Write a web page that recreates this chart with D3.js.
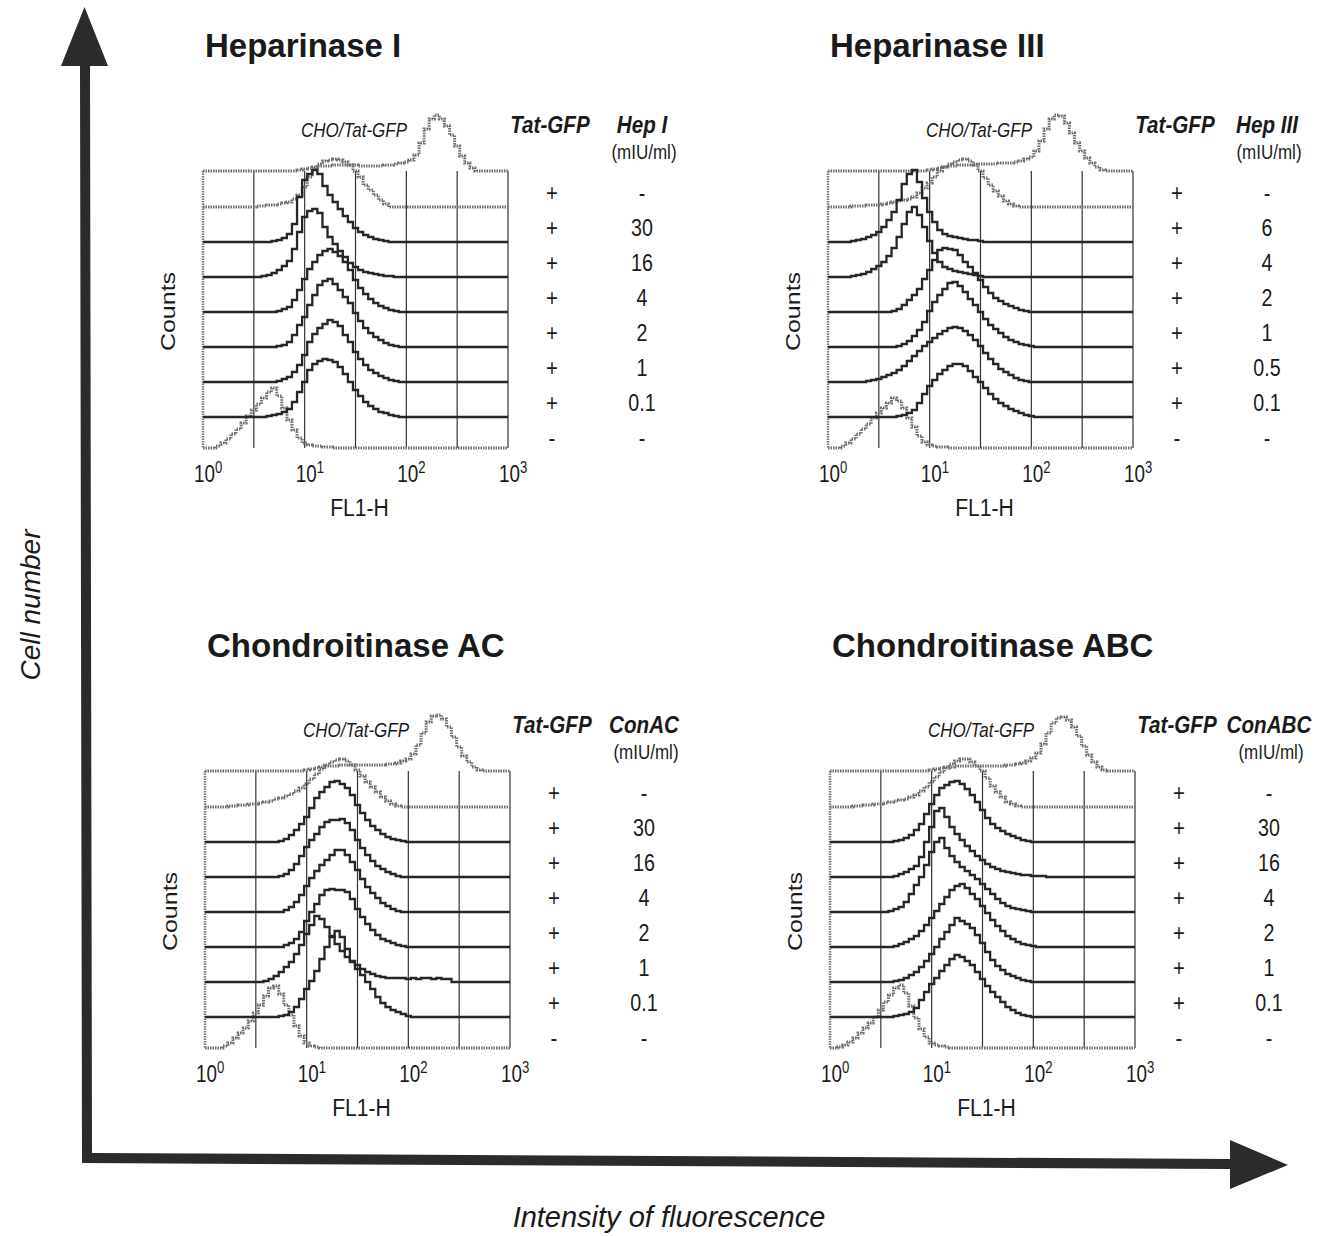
<!DOCTYPE html>
<html>
<head>
<meta charset="utf-8">
<script src="https://cdn.jsdelivr.net/npm/d3@7"></script>
<style>
  html, body { margin: 0; padding: 0; background: #fff; }
  svg { display: block; }
</style>
</head>
<body>
<svg id="fig" width="1327" height="1236"></svg>
<script>
// ---- Histogram data: counts per 0.05-decade bin of FL1-H, starting at the given log10 value ----
const binWidth = 0.05;
const gridDecades = [0, 0.5, 1, 1.5, 2, 2.5, 3];
const tickExponents = [0, 1, 2, 3];

const panelTitles = ["Heparinase I", "Heparinase III", "Chondroitinase AC", "Chondroitinase ABC"];
const enzymeNames = ["Hep I", "Hep III", "ConAC", "ConABC"];
const referenceLabel = "CHO/Tat-GFP";
const tatGfpRows = ["+", "+", "+", "+", "+", "+", "+", "-"];

// Heparinase I (mIU/ml)
const hepIDoses = ["-", "30", "16", "4", "2", "1", "0.1", "-"];
const hepIStarts = [0.95, 0.5, 0.65, 0.6, 0.7, 0.75, 0.7, 0.6, 0.1];
const hepICounts = [
  [1,2,3,4,5,5,5,6,6,6,6,6,5,5,5,5,5,6,6,7,8,9,11,16,28,42,52,56,52,45,36,25,15,8,3,0],
  [0,1,1,2,2,3,4,5,8,12,20,30,38,43,46,47,48,47,45,42,36,30,22,17,12,7,3,0],
  [0,1,2,4,8,18,45,62,68,72,68,56,47,40,33,26,20,14,10,7,5,3,2,1,0],
  [1,2,4,7,11,16,28,45,60,66,68,64,50,40,33,26,20,14,10,7,5,4,3,2,1,1,0],
  [0,1,3,5,12,22,33,43,50,57,61,63,60,56,50,42,32,24,18,13,9,6,4,2,1,0],
  [1,2,5,12,22,30,42,52,62,66,68,63,57,50,44,34,26,19,14,10,7,4,2,1,0],
  [0,1,3,5,10,17,27,40,48,54,58,62,60,56,47,40,30,23,17,12,9,6,4,2,1,0],
  [0,1,2,3,5,8,15,25,35,47,53,56,58,57,55,50,43,35,27,21,15,11,8,5,4,2,1,0],
  [0,2,5,9,14,19,25,32,38,44,50,56,60,52,40,28,18,10,5,3,2,2,1,1,0]
];

// Heparinase III (mIU/ml)
const hepIIIDoses = ["-", "6", "4", "2", "1", "0.5", "0.1", "-"];
const hepIIIStarts = [1.0, 0.2, 0.25, 0.2, 0.6, 0.65, 0.4, 0.65, 0.1];
const hepIIICounts = [
  [1,2,3,4,5,5,6,6,6,7,7,7,7,7,8,8,8,9,10,12,14,20,30,42,52,56,55,48,38,28,20,13,8,4,1,0],
  [0,1,1,1,2,2,2,3,4,5,6,7,8,10,14,19,24,30,36,40,43,45,47,48,46,42,36,29,22,16,11,6,3,1,0],
  [1,2,3,5,7,10,15,22,30,42,58,68,72,60,44,30,20,12,8,6,5,4,3,2,2,1,0],
  [0,1,2,3,5,8,11,15,21,29,40,53,65,70,62,50,36,24,15,10,8,6,5,4,3,2,1,0],
  [0,1,3,7,12,17,23,33,42,52,62,64,63,62,57,50,45,39,32,25,19,14,11,8,6,4,2,1,0],
  [0,1,3,6,11,17,25,36,45,52,58,64,65,61,55,48,42,35,28,22,18,14,10,7,5,3,2,1,0],
  [1,2,3,5,7,9,12,16,21,26,31,36,40,44,48,51,54,55,54,51,47,42,36,29,23,18,13,10,7,4,2,1,0],
  [0,1,2,4,7,14,23,31,37,43,47,51,53,53,51,46,40,35,29,23,18,14,11,8,6,4,2,1,0],
  [0,2,5,9,14,19,24,30,35,40,45,50,47,40,30,21,12,6,3,2,1,1,0]
];

// Chondroitinase AC (mIU/ml)
const conACDoses = ["-", "30", "16", "4", "2", "1", "0.1", "-"];
const conACStarts = [1.0, 0.2, 0.7, 0.7, 0.75, 0.75, 0.55, 0.7, 0.15];
const conACCounts = [
  [1,2,3,4,5,5,5,6,6,6,6,6,6,6,6,6,7,7,8,10,12,17,26,38,49,55,56,52,44,34,24,15,9,4,1,0],
  [0,1,1,2,2,3,3,4,5,6,8,9,11,13,16,19,23,28,33,38,42,45,47,48,46,42,37,31,25,20,15,10,6,3,1,0],
  [0,1,3,7,12,18,25,34,44,50,55,60,61,58,54,47,37,29,22,16,12,8,5,3,2,1,0],
  [0,1,3,7,13,21,30,37,43,50,55,57,57,58,54,47,37,29,22,16,11,8,5,3,1,0],
  [0,2,5,10,17,26,34,41,47,52,57,62,62,57,50,42,33,25,19,14,9,6,3,1,0],
  [0,2,4,8,15,26,35,43,52,57,58,57,57,55,48,38,30,23,17,12,8,6,4,2,1,0],
  [0,1,3,6,10,15,20,28,37,48,57,66,63,55,46,38,31,25,20,17,13,10,8,6,5,4,4,4,4,3,4,3,4,4,3,4,3,3,0],
  [0,1,2,5,10,18,28,36,46,58,70,80,86,80,68,56,48,42,35,28,20,14,10,7,5,3,1,0],
  [0,2,5,10,15,20,27,35,43,52,60,62,54,43,33,22,12,5,2,1,0]
];

// Chondroitinase ABC (mIU/ml)
const conABCDoses = ["-", "30", "16", "4", "2", "1", "0.1", "-"];
const conABCStarts = [1.0, 0.2, 0.6, 0.6, 0.55, 0.6, 0.6, 0.6, 0.05];
const conABCCounts = [
  [1,2,3,4,4,5,5,5,5,5,5,5,5,5,5,6,6,7,8,10,13,18,27,38,48,53,54,51,44,35,25,16,9,4,1,0],
  [0,1,1,2,2,3,3,4,5,6,7,8,10,12,16,20,25,30,35,39,43,46,48,48,45,41,36,29,21,15,10,5,3,1,0],
  [0,1,2,4,7,12,18,28,38,47,54,57,60,61,58,53,47,40,32,24,18,14,11,8,6,4,2,1,0],
  [0,1,3,5,8,11,20,35,50,66,69,60,50,43,37,31,26,21,17,13,10,8,6,5,4,3,2,2,1,1,1,0],
  [0,1,3,5,10,18,27,35,47,60,70,74,64,56,50,45,41,37,33,28,23,18,13,9,6,4,3,2,1,0],
  [0,1,3,5,8,11,16,22,29,36,43,50,57,61,63,59,53,48,41,34,27,21,16,11,8,5,3,2,1,0],
  [0,1,2,4,7,10,15,21,28,35,43,50,57,64,61,58,54,47,39,30,22,16,12,8,6,4,2,1,0],
  [0,1,2,3,5,9,17,25,33,39,46,52,58,62,60,56,52,45,38,31,25,20,15,10,7,4,2,1,0],
  [0,1,3,6,10,15,20,25,31,38,46,53,60,63,55,42,30,19,11,5,3,2,1,0]
];

// ---- Layout ----
const svg = d3.select("#fig");
const FONT = "'Liberation Sans', Arial, Helvetica, sans-serif";

const panels = [
  { title: panelTitles[0], enzyme: enzymeNames[0], doses: hepIDoses,   starts: hepIStarts,   counts: hepICounts,   left: 203, right: 508,  top: 171 },
  { title: panelTitles[1], enzyme: enzymeNames[1], doses: hepIIIDoses, starts: hepIIIStarts, counts: hepIIICounts, left: 828, right: 1133, top: 171 },
  { title: panelTitles[2], enzyme: enzymeNames[2], doses: conACDoses,  starts: conACStarts,  counts: conACCounts,  left: 205, right: 510,  top: 771 },
  { title: panelTitles[3], enzyme: enzymeNames[3], doses: conABCDoses, starts: conABCStarts, counts: conABCCounts, left: 830, right: 1135, top: 771 }
];
const boxHeight = 277, firstRow = 36, rowStep = 35;

const bins = d3.range(0, Math.round(3 / binWidth) + 1).map(i => +(i * binWidth).toFixed(2));
function expand(start, counts) {
  const i0 = Math.round(start / binWidth);
  return bins.map((u, i) => ({ u, c: (i >= i0 && i - i0 < counts.length) ? counts[i - i0] : 0 }));
}

// narrow-set text (condensed horizontally)
function ntext(g, x, y, str, o = {}) {
  const t = g.append("text")
    .attr("transform", `translate(${x},${y}) scale(${o.sx ?? 0.82},1)` + (o.rot ? ` rotate(${o.rot})` : ""))
    .attr("text-anchor", o.anchor || "middle")
    .attr("font-family", FONT)
    .attr("font-size", o.size || 22)
    .attr("font-weight", o.weight || "normal")
    .attr("font-style", o.style || "normal")
    .attr("fill", o.fill || "#1a1a1a")
    .text(str);
  if (o.ls) t.attr("letter-spacing", o.ls);
  return t;
}

const countScale = d3.scaleLinear().domain([0, 100]).range([0, 100]);

panels.forEach(p => {
  const g = svg.append("g");
  const bottom = p.top + boxHeight;
  const x = d3.scaleLog().domain([1, 1000]).range([p.left, p.right]);
  const baselines = [p.top];
  for (let i = 0; i < 7; i++) baselines.push(p.top + firstRow + rowStep * i);
  baselines.push(bottom);

  // title
  g.append("text").attr("x", p.left + 2).attr("y", p.top - 114)
    .attr("font-family", FONT).attr("font-size", 33).attr("font-weight", "bold")
    .attr("fill", "#1a1a1a").text(p.title);

  // half-decade grid
  g.selectAll("line.grid").data(gridDecades).join("line")
    .attr("x1", d => x(10 ** d)).attr("x2", d => x(10 ** d))
    .attr("y1", p.top).attr("y2", bottom)
    .attr("stroke", d => d === 0 ? "#7a7a7a" : "#333")
    .attr("stroke-width", d => d === 0 ? 2.5 : 1.2)
    .attr("stroke-dasharray", d => d === 0 ? "1.5 1" : null);

  const line = d3.line()
    .x(d => x(10 ** d.u))
    .curve(d3.curveStep);

  // traces: 0 = reference cells, 1 = Tat-GFP alone, 2..7 = enzyme doses, 8 = untreated
  const order = [0, 1, 8, 2, 3, 4, 5, 6, 7];
  order.forEach(k => {
    const dotted = (k === 0 || k === 1 || k === 8);
    const base = baselines[k];
    g.append("path")
      .datum(expand(p.starts[k], p.counts[k]))
      .attr("d", line.y(d => base - countScale(d.c)))
      .attr("fill", "none")
      .attr("stroke", dotted ? "#6e6e6e" : "#262626")
      .attr("stroke-width", dotted ? 3 : 2.3)
      .attr("stroke-dasharray", dotted ? "1.5 1" : null)
      .attr("stroke-linejoin", "miter");
  });

  // tick labels 10^k
  tickExponents.forEach(e => {
    const t = g.append("text")
      .attr("transform", `translate(${x(10 ** e) - 9},${bottom + 34}) scale(0.82,1)`)
      .attr("font-family", FONT).attr("font-size", 23).attr("fill", "#1a1a1a");
    t.append("tspan").text("10");
    t.append("tspan").attr("dy", -9).attr("font-size", 16).text(e);
  });
  ntext(g, (p.left + p.right) / 2 + 4, bottom + 68, "FL1-H", { size: 24, sx: 0.88 });
  ntext(g, p.left - 28, (p.top + bottom) / 2 + 2, "Counts", { size: 25, rot: -90 });

  // header labels
  ntext(g, p.left + 151, p.top - 34, referenceLabel, { size: 20, style: "italic", sx: 0.85 });
  ntext(g, p.right + 42, p.top - 38, "Tat-GFP", { size: 24, weight: "bold", style: "italic", sx: 0.86 });
  ntext(g, p.right + 134, p.top - 38, p.enzyme, { size: 24, weight: "bold", style: "italic", sx: 0.86 });
  ntext(g, p.right + 136, p.top - 12, "(mIU/ml)", { size: 20, sx: 0.85 });

  // row labels
  tatGfpRows.forEach((s, i) => {
    const y = p.top + 22 + rowStep * i + 8;
    ntext(g, p.right + 44, y, s, { size: 24, sx: 0.85 });
    ntext(g, p.right + 134, y, p.doses[i], { size: 24, sx: 0.82 });
  });
});

// ---- Big axis arrows ----
const arrow = svg.append("g").attr("fill", "#2b2b2b");
arrow.append("path").attr("d",
  "M80,66 L61,66 L84.5,7 L108,66 L90,66 L92,1153 L1230,1159 L1230,1140 L1288,1165 L1230,1189 L1230,1169 L82,1163 Z");

svg.append("text")
  .attr("transform", "translate(40,605) rotate(-90)")
  .attr("text-anchor", "middle").attr("font-family", FONT)
  .attr("font-size", 28).attr("font-style", "italic").attr("fill", "#1a1a1a")
  .text("Cell number");

svg.append("text")
  .attr("x", 669).attr("y", 1227)
  .attr("text-anchor", "middle").attr("font-family", FONT)
  .attr("font-size", 29).attr("font-style", "italic").attr("fill", "#1a1a1a")
  .text("Intensity of fluorescence");
</script>
</body>
</html>
